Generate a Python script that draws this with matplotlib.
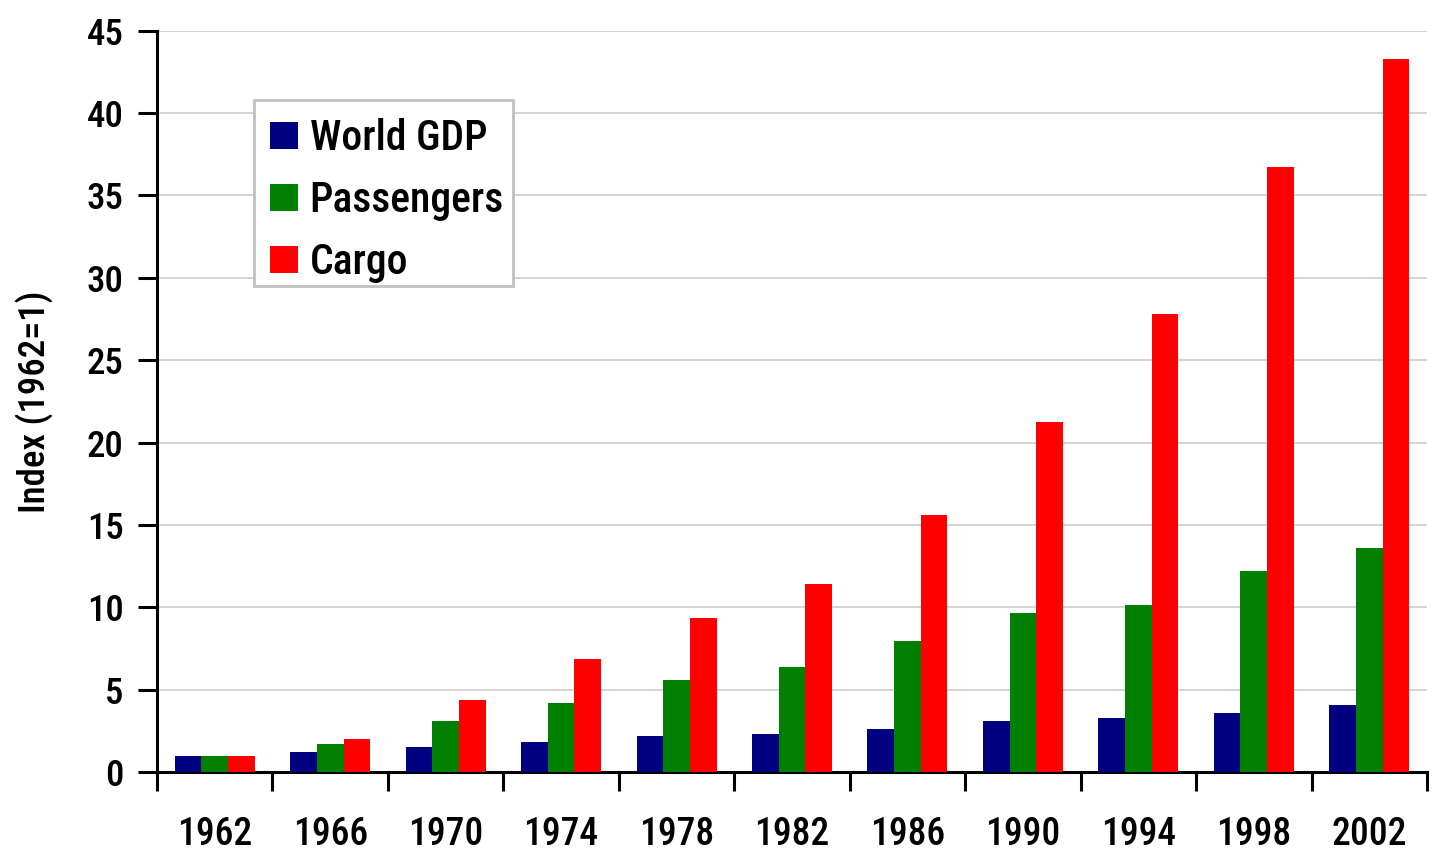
import matplotlib
matplotlib.use("Agg")
import matplotlib.pyplot as plt
from matplotlib import font_manager
from matplotlib.patches import Rectangle
import numpy as np

years = ["1962", "1966", "1970", "1974", "1978", "1982", "1986", "1990", "1994", "1998", "2002"]
world_gdp = [1.0, 1.21, 1.52, 1.82, 2.19, 2.31, 2.61, 3.10, 3.28, 3.58, 4.07]
passengers = [1.0, 1.70, 3.10, 4.19, 5.59, 6.38, 7.95, 9.65, 10.14, 12.2, 13.6]
cargo = [1.0, 2.0, 4.37, 6.86, 9.35, 11.41, 15.6, 21.25, 27.8, 36.73, 43.29]
series_names = ["World GDP", "Passengers", "Cargo"]
series_colors = ["#000080", "#008000", "#FF0000"]

avail = {f.name for f in font_manager.fontManager.ttflist}
stretch = "normal"
fam = None
for cand in ["Liberation Sans Narrow", "Roboto Condensed", "Open Sans Condensed", "DejaVu Sans Condensed"]:
    if cand in avail:
        fam = cand
        break
if fam is None:
    fam = "DejaVu Sans"
    stretch = "condensed"
plt.rcParams["font.family"] = [fam, "DejaVu Sans"]
plt.rcParams["font.stretch"] = stretch
plt.rcParams["font.weight"] = 500
plt.rcParams["axes.labelweight"] = 500

W, H = 1432, 851
fig = plt.figure(figsize=(W / 100, H / 100), dpi=100)
x0, x1, ybot, ytop = 157, 1427, 772, 30.7
ax = fig.add_axes([x0 / W, 1 - ybot / H, (x1 - x0) / W, (ybot - ytop) / H])

x = np.arange(len(years))
bw = 0.231
for i, (vals, name, col) in enumerate(zip([world_gdp, passengers, cargo], series_names, series_colors)):
    ax.bar(x + (i - 1) * bw, vals, width=bw, color=col, label=name, zorder=3, linewidth=0)

ax.set_xlim(-0.5, len(years) - 0.5)
ax.set_ylim(0, 45)
ax.set_yticks(np.arange(0, 46, 5))
ax.yaxis.grid(True, color="#cccccc", linewidth=1.2, zorder=0)
ax.set_axisbelow(True)

for s in ["top", "right"]:
    ax.spines[s].set_visible(False)
for s in ["left", "bottom"]:
    ax.spines[s].set_linewidth(2.2)
    ax.spines[s].set_color("black")

ax.set_xticks(x)
ax.set_xticklabels(years)
ax.set_xticks(np.arange(-0.5, len(years) + 0.5, 1), minor=True)
ax.tick_params(axis="x", which="major", length=0, pad=32, labelsize=27)
ax.tick_params(axis="x", which="minor", length=14, width=2.2, direction="out")
ax.tick_params(axis="y", length=14, width=2.2, direction="out", labelsize=26.5, pad=10)

ax.set_ylabel("Index (1962=1)", fontsize=26.5, labelpad=24)

# legend frame (box) in figure coordinates
frame = Rectangle((254 / W, 1 - 286 / H), (513 - 254) / W, (286 - 100) / H,
                  transform=fig.transFigure, facecolor="white", edgecolor="#c0c0c0",
                  linewidth=2, zorder=4, clip_on=False)
ax.add_patch(frame)

leg = ax.legend(loc="upper left", bbox_to_anchor=(269.5 / W, 1 - 118.5 / H),
                bbox_transform=fig.transFigure, fontsize=30, frameon=False,
                borderaxespad=0, borderpad=0,
                handlelength=0.68, handleheight=0.63, handletextpad=0.28,
                labelspacing=0.5)
leg.set_zorder(5)

fig.savefig("out.png", dpi=100)
